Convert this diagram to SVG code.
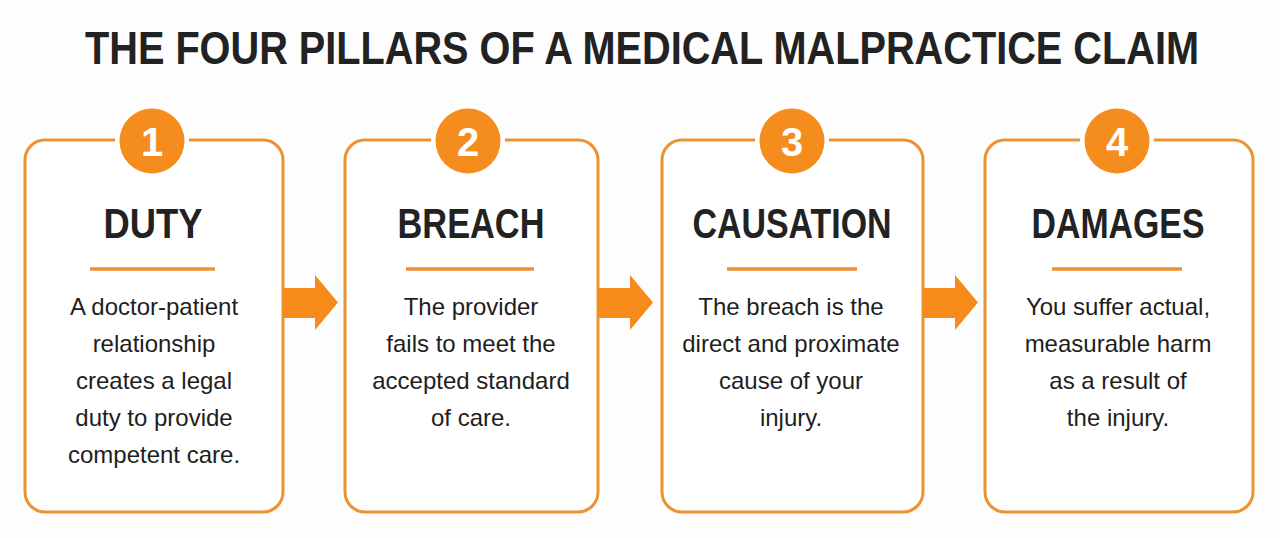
<svg xmlns="http://www.w3.org/2000/svg" width="1280" height="538" viewBox="0 0 1280 538">
<style>
.bg{fill:#fdfdfd}
.box{fill:#ffffff;stroke:#ec9232;stroke-width:3}
.ring{fill:#ffffff}
.badge{fill:#f48c1e}
.num{font-family:"Liberation Sans",Arial,sans-serif;font-weight:bold;font-size:40px;fill:#ffffff;text-anchor:middle}
.title{font-family:"Liberation Sans",Arial,sans-serif;font-weight:bold;font-size:42px;fill:#222222;text-anchor:middle}
.head{font-family:"Liberation Sans",Arial,sans-serif;font-weight:bold;font-size:42px;fill:#222222;text-anchor:middle}
.rule{stroke:#ec9232;stroke-width:3.5}
.body{font-family:"Liberation Sans",Arial,sans-serif;font-size:24px;fill:#1e1e1e;text-anchor:middle}
.arrow{fill:#f68a1a}
</style>
<rect class="bg" x="0" y="0" width="1280" height="538"/>
<g transform="scale(1,1.1)">
<text class="title" x="642" y="58.2" textLength="1114" lengthAdjust="spacingAndGlyphs">THE FOUR PILLARS OF A MEDICAL MALPRACTICE CLAIM</text>
</g>

<g id="node-duty">
<rect class="box" x="25" y="140" width="258" height="372" rx="20"/>
<circle class="ring" cx="152" cy="141" r="37"/>
<circle class="badge" cx="152" cy="141" r="32.5"/>
<text class="num" x="152" y="156">1</text>
<text class="head" x="153" y="238" textLength="99" lengthAdjust="spacingAndGlyphs">DUTY</text>
<line class="rule" x1="90" y1="269" x2="215" y2="269"/>
<text class="body" x="154" y="315">A doctor-patient</text>
<text class="body" x="154" y="352">relationship</text>
<text class="body" x="154" y="389">creates a legal</text>
<text class="body" x="154" y="426">duty to provide</text>
<text class="body" x="154" y="463">competent care.</text>
</g>

<g id="node-breach">
<rect class="box" x="345" y="140" width="253" height="372" rx="20"/>
<circle class="ring" cx="468" cy="141" r="37"/>
<circle class="badge" cx="468" cy="141" r="32.5"/>
<text class="num" x="468" y="156">2</text>
<text class="head" x="471" y="238" textLength="147" lengthAdjust="spacingAndGlyphs">BREACH</text>
<line class="rule" x1="406" y1="269" x2="534" y2="269"/>
<text class="body" x="471" y="315">The provider</text>
<text class="body" x="471" y="352">fails to meet the</text>
<text class="body" x="471" y="389">accepted standard</text>
<text class="body" x="471" y="426">of care.</text>
</g>

<g id="node-causation">
<rect class="box" x="662" y="140" width="261" height="372" rx="20"/>
<circle class="ring" cx="792" cy="141" r="37"/>
<circle class="badge" cx="792" cy="141" r="32.5"/>
<text class="num" x="792" y="156">3</text>
<text class="head" x="792" y="238" textLength="199" lengthAdjust="spacingAndGlyphs">CAUSATION</text>
<line class="rule" x1="727" y1="269" x2="857" y2="269"/>
<text class="body" x="791" y="315">The breach is the</text>
<text class="body" x="791" y="352">direct and proximate</text>
<text class="body" x="791" y="389">cause of your</text>
<text class="body" x="791" y="426">injury.</text>
</g>

<g id="node-damages">
<rect class="box" x="985" y="140" width="268" height="372" rx="20"/>
<circle class="ring" cx="1117" cy="141" r="37"/>
<circle class="badge" cx="1117" cy="141" r="32.5"/>
<text class="num" x="1117" y="156">4</text>
<text class="head" x="1118" y="238" textLength="173" lengthAdjust="spacingAndGlyphs">DAMAGES</text>
<line class="rule" x1="1052" y1="269" x2="1182" y2="269"/>
<text class="body" x="1118" y="315">You suffer actual,</text>
<text class="body" x="1118" y="352">measurable harm</text>
<text class="body" x="1118" y="389">as a result of</text>
<text class="body" x="1118" y="426">the injury.</text>
</g>

<g id="connectors">
<polygon class="arrow" points="283,288 315,288 315,275 338,302.5 315,330 315,318 283,318"/>
<polygon class="arrow" points="598,288 630,288 630,275 653,302.5 630,330 630,318 598,318"/>
<polygon class="arrow" points="923,288 955,288 955,275 978,302.5 955,330 955,318 923,318"/>
</g>
</svg>
